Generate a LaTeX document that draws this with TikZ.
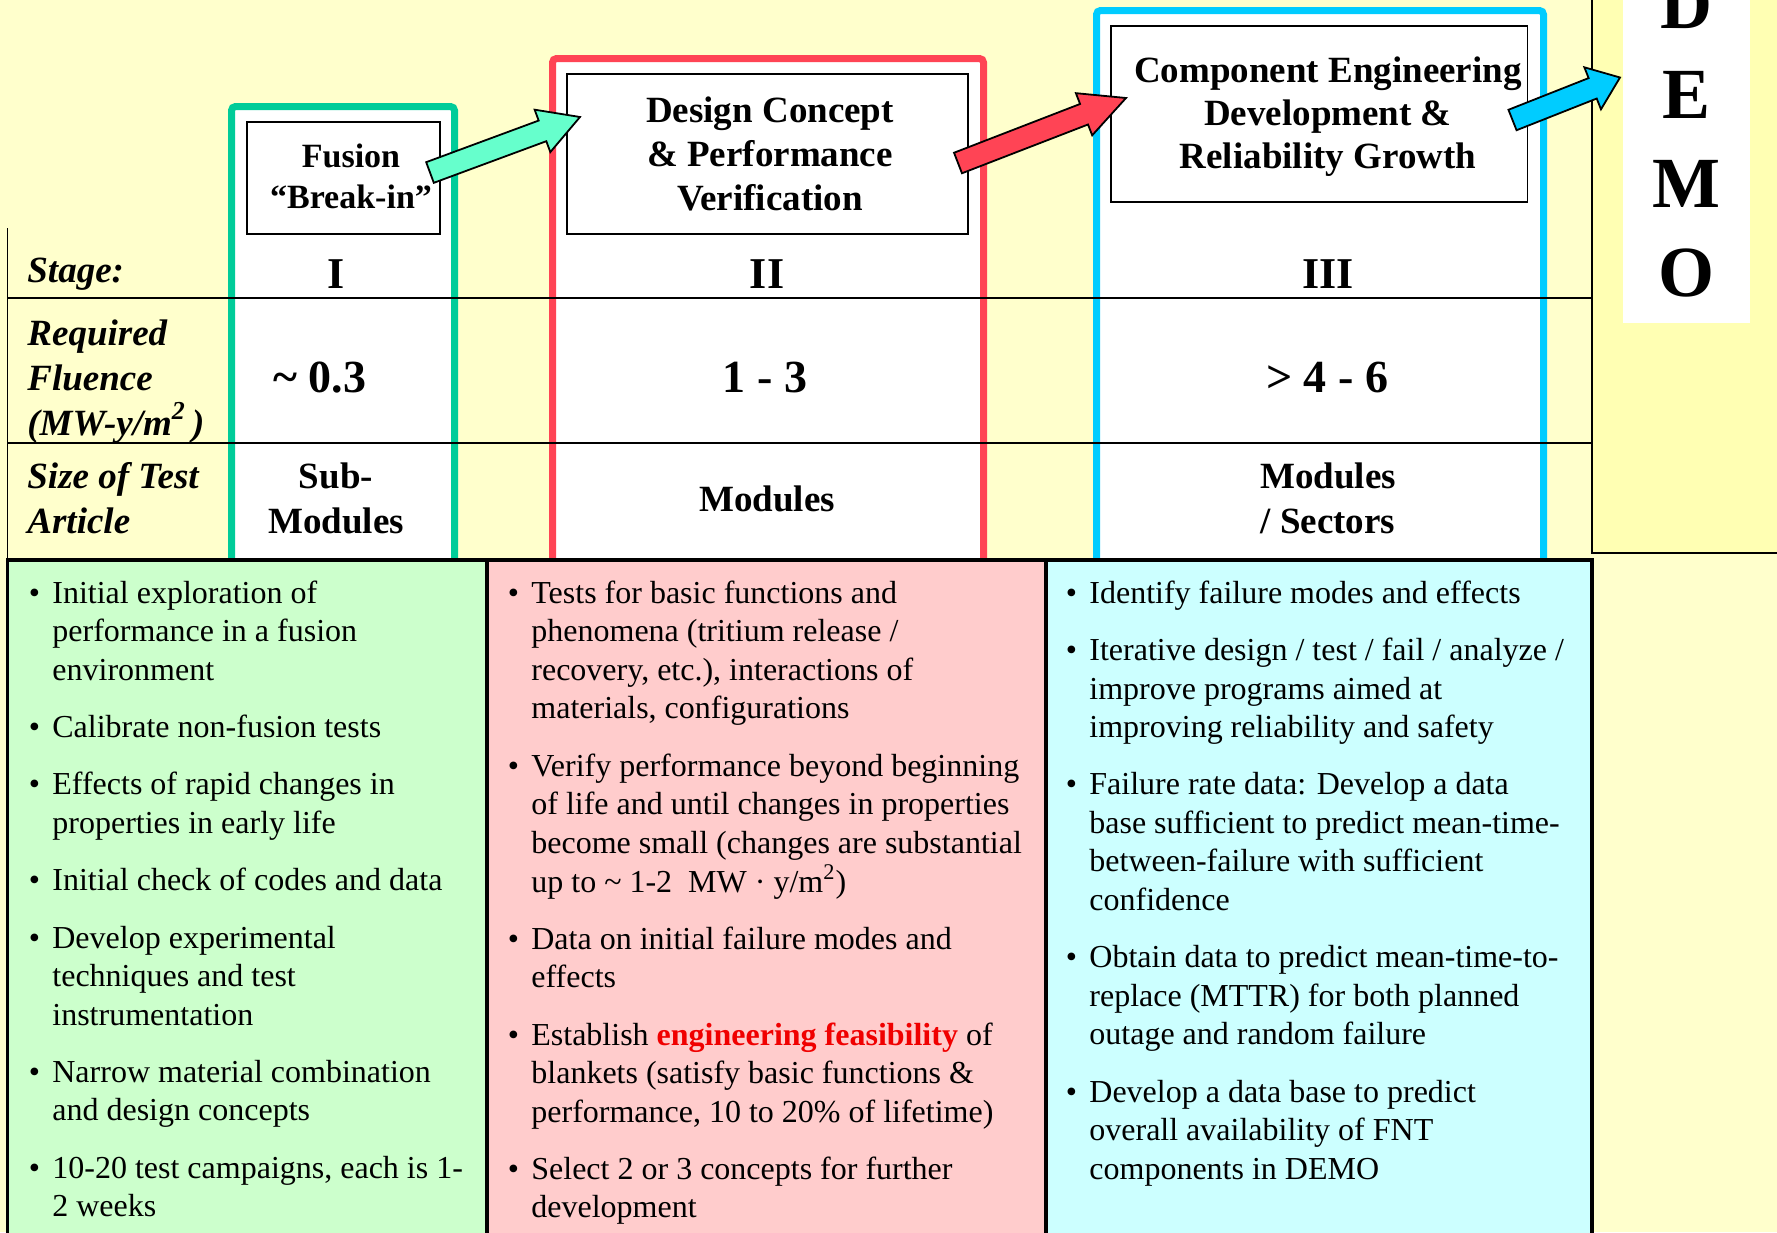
\documentclass[tikz,border=0pt]{standalone}
\usepackage{fontspec}
\setmainfont{Liberation Serif}
\usepackage{xcolor}
\usetikzlibrary{calc}

\definecolor{paleyellow}{HTML}{FFFFCC}
\definecolor{demoyellow}{HTML}{FFFFB3}
\definecolor{stagegreen}{HTML}{00CC99}
\definecolor{stagered}{HTML}{FF4455}
\definecolor{stageblue}{HTML}{00CCFF}
\definecolor{arrowgreen}{HTML}{66FFCC}
\definecolor{listgreen}{HTML}{CCFFCC}
\definecolor{listpink}{HTML}{FFCCCC}
\definecolor{listcyan}{HTML}{CCFFFF}
\definecolor{feasred}{HTML}{F00000}

\newcommand{\dotitem}{\makebox[11.8pt][l]{\textbullet}}

% block arrow: fill, tail, tip, head length
\newcommand{\fatarrow}[4]{%
  \coordinate (fa-base) at ($(#3)!#4!(#2)$);
  \filldraw[fill=#1, draw=black, line width=0.9pt, line join=miter]
    ($(#2)!5.5pt!90:(#3)$) -- ($(fa-base)!5.5pt!-90:(#2)$) -- ($(fa-base)!11.3pt!-90:(#2)$) -- (#3)
    -- ($(fa-base)!11.3pt!90:(#2)$) -- ($(fa-base)!5.5pt!90:(#2)$) -- ($(#2)!5.5pt!-90:(#3)$) -- cycle;}

\tikzset{
  stageframe/.style={fill=white, line width=3.5pt, rounded corners=2pt},
  titlebox/.style={draw, fill=white, line width=0.75pt, inner sep=0pt},
  titletext/.style={anchor=north, align=center, inner sep=0pt},
  rowlabel/.style={anchor=north west, align=left, inner sep=0pt, font=\fontsize{18.5}{22.5}\selectfont\bfseries\itshape},
  numeral/.style={anchor=base, inner sep=0pt, font=\fontsize{22}{26}\selectfont\bfseries},
  fluence/.style={anchor=base, inner sep=0pt, font=\fontsize{23}{27}\selectfont\bfseries},
  sizetext/.style={anchor=north, align=center, inner sep=0pt, font=\fontsize{18.5}{22.5}\selectfont\bfseries},
  tablerule/.style={line width=0.75pt},
  listframe/.style={draw, line width=1.7pt},
  listtext/.style={anchor=north west, inner sep=0pt, font=\fontsize{16}{19.25}\selectfont},
  demoletter/.style={anchor=base, inner sep=0pt, font=\fontsize{36}{40}\selectfont\bfseries}
}

\begin{document}
\begin{tikzpicture}[x=0.5pt, y=-0.5pt]
\useasboundingbox (0,0) rectangle (1777,1232);
\clip (0,0) rectangle (1777,1232);
\fill[paleyellow] (0,0) rectangle (1777,1232);

% DEMO column
\fill[demoyellow] (1592,-10) rectangle (1800,553);
\draw[tablerule] (1592,-10) -- (1592,553) -- (1800,553);
\fill[white] (1623,-10) rectangle (1750,323);
\foreach \ch/\yb in {D/28,E/118,M/207,O/296}
  \node[demoletter] (demo\ch) at (1686,\yb) {\ch};

% stage frames
\filldraw[stageframe, draw=stagegreen] (231.5,560) -- (231.5,106.5) -- (454.5,106.5) -- (454.5,560);
\filldraw[stageframe, draw=stagered] (552.5,560) -- (552.5,58.5) -- (983.5,58.5) -- (983.5,560);
\filldraw[stageframe, draw=stageblue] (1096.5,560) -- (1096.5,10.5) -- (1543.5,10.5) -- (1543.5,560);

\node[titlebox, minimum width=96.5pt, minimum height=56pt] (fusionbox) at (343.5,178) {};
\node[titlebox, minimum width=200.5pt, minimum height=80pt] (designbox) at (767.5,154) {};
\node[titlebox, minimum width=208.25pt, minimum height=88pt] (compbox) at (1319.25,114) {};

\node[titletext, font=\fontsize{17}{20.5}\selectfont\bfseries] (fusiontitle) at (351,138.3)
  {\strut Fusion\\“Break-in”};
\node[titletext, font=\fontsize{18.5}{22}\selectfont\bfseries] (designtitle) at (770,91.2)
  {\strut Design Concept\\\& Performance\\Verification};
\node[titletext, font=\fontsize{18.5}{21.5}\selectfont\bfseries] (comptitle) at (1328,51.9)
  {\strut Component Engineering\\Development \&\\Reliability Growth};

% table rows
\draw[tablerule] (7.7,228) -- (7.7,560);
\draw[tablerule] (7.7,298) -- (1592,298);
\draw[tablerule] (7.7,443) -- (1592,443);

\node[rowlabel, anchor=base west] (stagelabel) at (27,282) {Stage:};
\node[rowlabel] (fluencelabel) at (27,313.5) {\strut Required\\Fluence\\(MW-y/m\raisebox{1.5pt}{\textsuperscript{2}}\,)};
\node[rowlabel] (sizelabel) at (27,456.5) {\strut Size of Test\\Article};

\node[numeral] (stageI) at (336,288) {I};
\node[numeral] (stageII) at (767,288) {II};
\node[numeral] (stageIII) at (1328,288) {III};

\node[fluence] (fluenceI) at (320,392) {\textasciitilde{} 0.3};
\node[fluence] (fluenceII) at (765,392) {1 - 3};
\node[fluence] (fluenceIII) at (1327,392) {> 4 - 6};

\node[sizetext] (sizeI) at (336,456.5) {\strut Sub-\\Modules};
\node[sizetext, anchor=base] (sizeII) at (767,511) {Modules};
\node[sizetext] (sizeIII) at (1328,456.5) {\strut Modules\\/ Sectors};

% activity columns
\draw[listframe, fill=listgreen] (7.7,560) rectangle (487,1260);
\draw[listframe, fill=listpink] (487,560) rectangle (1046,1260);
\draw[listframe, fill=listcyan] (1046,560) rectangle (1592,1260);

\node[listtext] (greenlist) at (28.4,576) {\begin{tabular}{@{}l@{}l@{}}
\dotitem & Initial exploration of\\
 & performance in a fusion\\
 & environment\\[9.4pt]
\dotitem & Calibrate non-fusion tests\\[9.4pt]
\dotitem & Effects of rapid changes in\\
 & properties in early life\\[9.4pt]
\dotitem & Initial check of codes and data\\[9.4pt]
\dotitem & Develop experimental\\
 & techniques and test\\
 & instrumentation\\[9.4pt]
\dotitem & Narrow material combination\\
 & and design concepts\\[9.4pt]
\dotitem & 10-20 test campaigns, each is 1-\\
 & 2 weeks
\end{tabular}};

\node[listtext] (pinklist) at (507.4,576) {\begin{tabular}{@{}l@{}l@{}}
\dotitem & Tests for basic functions and\\
 & phenomena (tritium release /\\
 & recovery, etc.), interactions of\\
 & materials, configurations\\[9.4pt]
\dotitem & Verify performance beyond beginning\\
 & of life and until changes in properties\\
 & become small (changes are substantial\\
 & up to \textasciitilde{} 1-2~ MW \textperiodcentered{} y/m\textsuperscript{2})\\[9.4pt]
\dotitem & Data on initial failure modes and\\
 & effects\\[9.4pt]
\dotitem & Establish \textcolor{feasred}{\bfseries engineering feasibility} of\\
 & blankets (satisfy basic functions \&\\
 & performance, 10 to 20\% of lifetime)\\[9.4pt]
\dotitem & Select 2 or 3 concepts for further\\
 & development
\end{tabular}};

\node[listtext] (cyanlist) at (1065.4,576) {\begin{tabular}{@{}l@{}l@{}}
\dotitem & Identify failure modes and effects\\[9.4pt]
\dotitem & Iterative design / test / fail / analyze /\\
 & improve programs aimed at\\
 & improving reliability and safety\\[9.4pt]
\dotitem & Failure rate data: Develop a data\\
 & base sufficient to predict mean-time-\\
 & between-failure with sufficient\\
 & confidence\\[9.4pt]
\dotitem & Obtain data to predict mean-time-to-\\
 & replace (MTTR) for both planned\\
 & outage and random failure\\[9.4pt]
\dotitem & Develop a data base to predict\\
 & overall availability of FNT\\
 & components in DEMO
\end{tabular}};

% stage-to-stage arrows
\coordinate (fusion-out) at (430,172.5);
\coordinate (design-in) at (580,117);
\coordinate (design-out) at (958,163);
\coordinate (comp-in) at (1126,98);
\coordinate (comp-out) at (1512.5,120);
\coordinate (demo-in) at (1620,77.5);
\fatarrow{arrowgreen}{fusion-out}{design-in}{20pt}
\fatarrow{stagered}{design-out}{comp-in}{22.5pt}
\fatarrow{stageblue}{comp-out}{demo-in}{14.7pt}
\end{tikzpicture}
\end{document}
